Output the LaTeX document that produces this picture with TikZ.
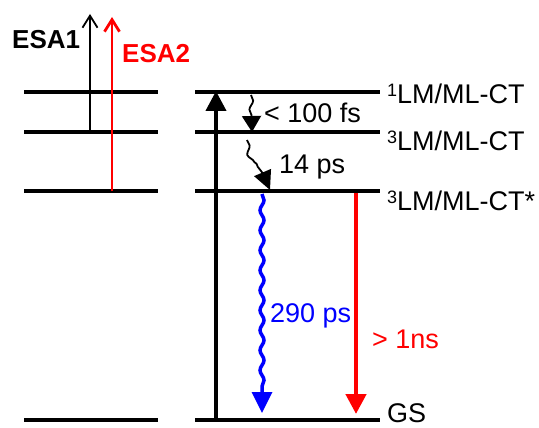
\documentclass[tikz,border=0pt]{standalone}
\usepackage{fontspec}
\setmainfont{Liberation Sans}
\usetikzlibrary{arrows.meta,decorations.pathmorphing}

\newcommand{\spin}[1]{\raisebox{7pt}{\fontsize{18}{20}\selectfont #1}}

\begin{document}
\begin{tikzpicture}[x=1pt,y=-1pt]
    \tikzset{
        level/.style={line width=3.5pt},
        lbl/.style={anchor=base west, inner sep=0pt, font=\fontsize{27}{30}\selectfont},
        esa/.style={lbl, font=\fontsize{26}{30}\selectfont\bfseries},
        barb/.style={-{Straight Barb[length=12pt,width=15pt]}},
        tri/.style={-{Triangle[length=20pt,width=20pt]}},
        wave/.style={decorate, decoration={snake, amplitude=2pt, segment length=20pt, post length=20pt}}
    }
    \useasboundingbox (0,0) rectangle (539,428);

    % energy levels
    \foreach \y in {92,132,191,420}{
        \draw[level] (24,\y) -- (158,\y);
        \draw[level] (195,\y) -- (380,\y);
    }

    % ends of the transitions
    \coordinate (e1a) at (90,132);
    \coordinate (e1b) at (90,14);
    \coordinate (e2a) at (112,191);
    \coordinate (e2b) at (112,17);
    \coordinate (gs0) at (216,420);
    \coordinate (s10) at (216,91);
    \coordinate (w1a) at (251,95);
    \coordinate (w1b) at (252,132);
    \coordinate (w2a) at (247,140);
    \coordinate (w2b) at (270,190);
    \coordinate (b1a) at (262,194);
    \coordinate (b1b) at (262,413);
    \coordinate (r1a) at (356,193);
    \coordinate (r1b) at (356,414);

    % labels
    \draw node[esa] (esa1) at (12,49) {ESA1};
    \draw node[esa, red] (esa2) at (122,63) {ESA2};
    \draw node[lbl] (s1) at (387,104) {\spin{1}LM/ML-CT};
    \draw node[lbl] (t1) at (387,150) {\spin{3}LM/ML-CT};
    \draw node[lbl] (t2) at (387,210) {\spin{3}LM/ML-CT*};
    \draw node[lbl] (gs) at (387,422) {GS};
    \draw node[lbl] (k1) at (264,123) {< 100 fs};
    \draw node[lbl] (k2) at (279,173) {14 ps};
    \draw node[lbl, blue] (k3) at (270,322) {290 ps};
    \draw node[lbl, red] (k4) at (372,348) {> 1ns};

    % transitions
    \draw[barb, line width=1.8pt] (e1a) -- (e1b);
    \draw[barb, line width=2.8pt, red] (e2a) -- (e2b);
    \draw[tri, line width=4pt] (gs0) -- (s10);
    \draw[tri, line width=4.5pt, red] (r1a) -- (r1b);
    \draw[-{Triangle[length=16pt,width=19pt]}, line width=1.8pt, wave, decoration={segment length=18pt, post length=15pt}] (w1a) -- (w1b);
    \draw[-{Triangle[length=19pt,width=18pt]}, line width=1.8pt, wave, decoration={segment length=18pt, post length=18pt}] (w2a) .. controls (250,168) and (262,162) .. (w2b);
    \draw[-{Triangle[length=21pt,width=20pt]}, line width=3.5pt, blue, wave] (b1a) -- (b1b);
\end{tikzpicture}
\end{document}
